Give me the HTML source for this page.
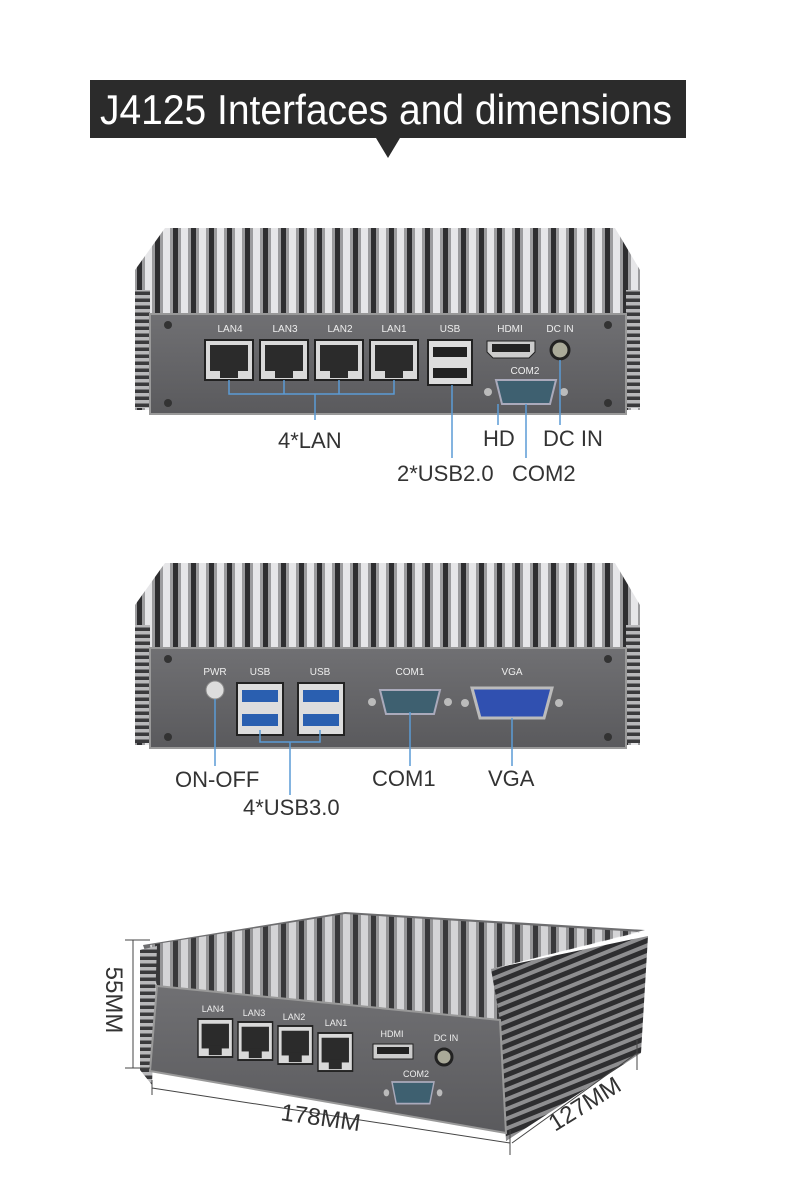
<!DOCTYPE html>
<html><head><meta charset="utf-8"><style>
html,body{margin:0;padding:0;background:#fff;}
body{width:790px;height:1175px;overflow:hidden;}
text{font-family:"Liberation Sans",sans-serif;}
</style></head><body>
<svg width="790" height="1175" viewBox="0 0 790 1175" xmlns="http://www.w3.org/2000/svg">
<defs>
<pattern id="fins" width="18" height="10" patternUnits="userSpaceOnUse">
<rect width="18" height="10" fill="#9c9c9e"/>
<rect x="1" width="7" height="10" fill="#e6e6e8"/>
<rect x="11" width="5" height="10" fill="#2e2e30"/>
</pattern>
<pattern id="sfins" width="10" height="7" patternUnits="userSpaceOnUse">
<rect width="10" height="7" fill="#3a3a3c"/>
<rect y="1" width="10" height="3.5" fill="#b8b8ba"/>
</pattern>
<pattern id="rfins" width="10" height="9" patternUnits="userSpaceOnUse" patternTransform="rotate(-22)">
<rect width="10" height="9" fill="#2e2e30"/>
<rect y="1" width="10" height="4" fill="#8e8e90"/>
</pattern>
<linearGradient id="panel" x1="0" y1="0" x2="0" y2="1">
<stop offset="0" stop-color="#707073"/><stop offset="1" stop-color="#5a5a5d"/>
</linearGradient>
<g id="lan">
<rect x="0" y="0" width="48" height="40" fill="#d9d9d9" stroke="#222" stroke-width="2"/>
<rect x="5" y="5" width="38" height="26" fill="#2b2b2b"/>
<rect x="15" y="28" width="18" height="10" fill="#2b2b2b"/>
</g>
<g id="db9">
<path d="M0 0 H60 L54 24 H6 Z" fill="#3e6070" stroke="#aab" stroke-width="2"/>
<circle cx="-8" cy="12" r="4" fill="#bbb"/><circle cx="68" cy="12" r="4" fill="#bbb"/>
</g>
</defs>

<!-- title -->
<rect x="90" y="80" width="596" height="58" fill="#2b2b2b"/>
<polygon points="376,138 400,138 388,158" fill="#2b2b2b"/>
<text x="100" y="124" fill="#fff" font-size="42" textLength="572" lengthAdjust="spacingAndGlyphs" style="font-family:'Liberation Sans Narrow','Liberation Sans',sans-serif">J4125 Interfaces and dimensions</text>

<!-- device 1 -->
<polygon points="165,228 615,228 640,270 640,410 135,410 135,270" fill="url(#fins)"/>
<rect x="135" y="290" width="15" height="118" fill="url(#sfins)"/>
<rect x="626" y="290" width="14" height="118" fill="url(#sfins)"/>
<rect x="150" y="314" width="476" height="100" fill="url(#panel)" stroke="#999" stroke-width="2"/>
<circle cx="168" cy="325" r="4" fill="#333"/><circle cx="608" cy="325" r="4" fill="#333"/>
<circle cx="168" cy="403" r="4" fill="#333"/><circle cx="608" cy="403" r="4" fill="#333"/>
<g font-size="10" fill="#eee" text-anchor="middle">
<text x="230" y="332">LAN4</text><text x="285" y="332">LAN3</text><text x="340" y="332">LAN2</text><text x="394" y="332">LAN1</text>
<text x="450" y="332">USB</text><text x="510" y="332">HDMI</text><text x="560" y="332">DC IN</text><text x="525" y="374">COM2</text>
</g>
<use href="#lan" x="205" y="340"/><use href="#lan" x="260" y="340"/><use href="#lan" x="315" y="340"/><use href="#lan" x="370" y="340"/>
<rect x="428" y="340" width="44" height="45" fill="#ddd" stroke="#222" stroke-width="2"/>
<rect x="433" y="347" width="34" height="10" fill="#222"/><rect x="433" y="368" width="34" height="10" fill="#222"/>
<path d="M487 341 H535 V352 L529 358 H493 L487 352 Z" fill="#ccc" stroke="#222"/><rect x="492" y="344" width="38" height="8" fill="#222"/>
<circle cx="560" cy="350" r="9" fill="#aa9" stroke="#222" stroke-width="3"/>
<use href="#db9" x="496" y="380"/>
<g stroke="#5b9bd5" stroke-width="1.5" fill="none">
<path d="M229 380 V394 H394 V380 M284 380 V394 M339 380 V394 M315 394 V420"/>
<path d="M452 385 V458 M498 404 V425 M560 360 V425 M526 404 V458"/>
</g>
<g font-size="22" fill="#333">
<text x="278" y="448">4*LAN</text><text x="483" y="446">HD</text><text x="543" y="446">DC IN</text>
<text x="397" y="481">2*USB2.0</text><text x="512" y="481">COM2</text>
</g>

<!-- device 2 -->
<polygon points="165,563 615,563 640,605 640,745 135,745 135,605" fill="url(#fins)"/>
<rect x="135" y="625" width="15" height="118" fill="url(#sfins)"/>
<rect x="626" y="625" width="14" height="118" fill="url(#sfins)"/>
<rect x="150" y="648" width="476" height="100" fill="url(#panel)" stroke="#999" stroke-width="2"/>
<circle cx="168" cy="659" r="4" fill="#333"/><circle cx="608" cy="659" r="4" fill="#333"/>
<circle cx="168" cy="737" r="4" fill="#333"/><circle cx="608" cy="737" r="4" fill="#333"/>
<g font-size="10" fill="#eee" text-anchor="middle">
<text x="215" y="675">PWR</text><text x="260" y="675">USB</text><text x="320" y="675">USB</text>
<text x="410" y="675">COM1</text><text x="512" y="675">VGA</text>
</g>
<circle cx="215" cy="690" r="9" fill="#ddd" stroke="#888"/>
<rect x="237" y="683" width="46" height="52" fill="#ddd" stroke="#222" stroke-width="2"/>
<rect x="242" y="690" width="36" height="12" fill="#2a5fb0"/><rect x="242" y="714" width="36" height="12" fill="#2a5fb0"/>
<rect x="298" y="683" width="46" height="52" fill="#ddd" stroke="#222" stroke-width="2"/>
<rect x="303" y="690" width="36" height="12" fill="#2a5fb0"/><rect x="303" y="714" width="36" height="12" fill="#2a5fb0"/>
<use href="#db9" x="380" y="690"/>
<path d="M472 688 H552 L544 718 H480 Z" fill="#3050b0" stroke="#bbb" stroke-width="3"/>
<circle cx="465" cy="703" r="4" fill="#bbb"/><circle cx="559" cy="703" r="4" fill="#bbb"/>
<g stroke="#5b9bd5" stroke-width="1.5" fill="none">
<path d="M215 699 V766 M260 730 V742 H320 V730 M290 742 V795 M410 712 V766 M512 718 V766"/>
</g>
<g font-size="22" fill="#333">
<text x="175" y="787">ON-OFF</text><text x="372" y="786">COM1</text><text x="488" y="786">VGA</text><text x="243" y="815">4*USB3.0</text>
</g>

<!-- device 3 -->
<polygon points="143,945 345,912 645,930 491,969 500,1020 157,986" fill="#6e6e70"/>
<polygon points="150,945 345,914 640,932 491,969 500,1020 157,986" fill="url(#fins)" opacity="0.85"/>
<polygon points="491,969 648,936 641,1053 506,1141 500,1020" fill="url(#rfins)"/>
<polygon points="140,950 157,946 152,1085 140,1070" fill="url(#sfins)"/>
<polygon points="157,986 500,1020 506,1133 150,1071" fill="url(#panel)" stroke="#999" stroke-width="2"/>
<g font-size="9" fill="#eee" text-anchor="middle">
<text x="213" y="1012">LAN4</text><text x="254" y="1016">LAN3</text><text x="294" y="1020">LAN2</text><text x="336" y="1026">LAN1</text>
<text x="392" y="1037">HDMI</text><text x="446" y="1041">DC IN</text><text x="416" y="1077">COM2</text>
</g>
<use href="#lan" transform="translate(198,1019) scale(0.72,0.95)"/>
<use href="#lan" transform="translate(238,1022) scale(0.72,0.95)"/>
<use href="#lan" transform="translate(278,1026) scale(0.72,0.95)"/>
<use href="#lan" transform="translate(318,1033) scale(0.72,0.95)"/>
<rect x="373" y="1044" width="40" height="15" fill="#ccc" stroke="#222"/><rect x="377" y="1047" width="32" height="7" fill="#222"/>
<circle cx="444" cy="1057" r="8" fill="#aa9" stroke="#222" stroke-width="3"/>
<use href="#db9" transform="translate(392,1082) scale(0.7,0.9)"/>
<g stroke="#444" stroke-width="1" fill="none">
<path d="M133 940 V1068 M125 940 H150 M125 1068 H150"/>
<path d="M152 1080 V1095 M152 1088 L510 1143 M510 1130 V1155"/>
<path d="M512 1143 L637 1053 M637 1040 V1070"/>
</g>
<text transform="translate(106,1000) rotate(90)" font-size="24" fill="#333" text-anchor="middle">55MM</text>
<text x="280" y="1120" font-size="24" fill="#333" transform="rotate(8 280 1120)">178MM</text>
<text x="555" y="1132" font-size="24" fill="#333" transform="rotate(-32 555 1132)">127MM</text>
</svg>
</body></html>
